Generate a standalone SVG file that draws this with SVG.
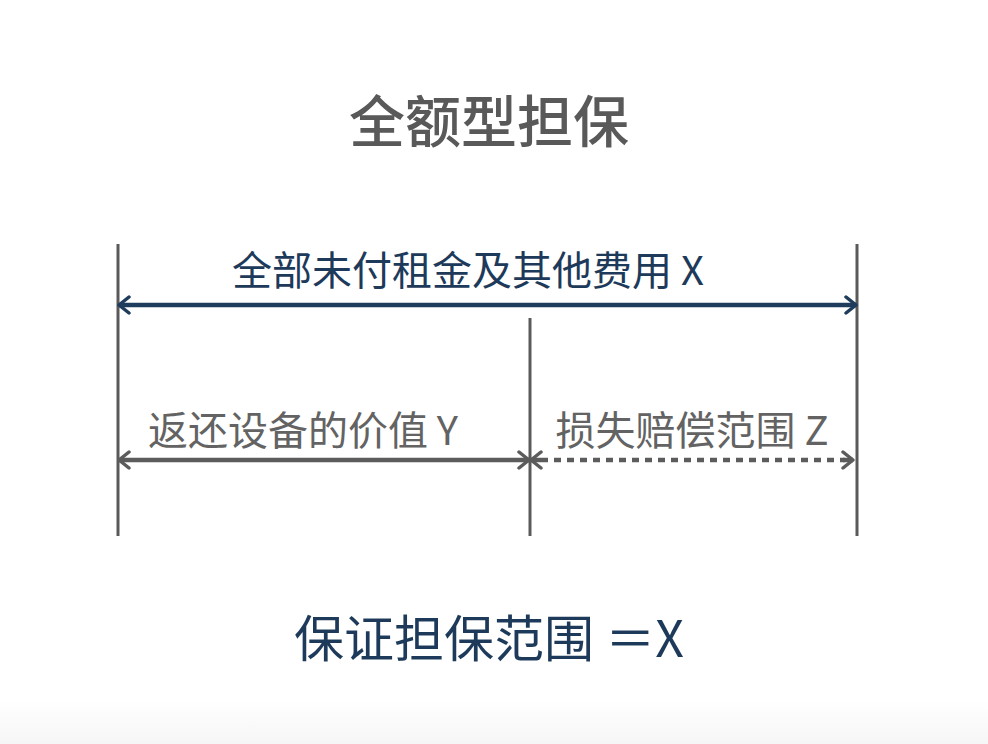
<svg xmlns="http://www.w3.org/2000/svg" width="988" height="744" viewBox="0 0 988 744">
<defs>
<linearGradient id="bg" x1="0" y1="0" x2="0" y2="1">
<stop offset="0" stop-color="#ffffff"/>
<stop offset="1" stop-color="#f6f6f7"/>
</linearGradient>
<marker id="navyEnd" viewBox="0 0 14 20" refX="12" refY="10" markerWidth="14" markerHeight="20" markerUnits="userSpaceOnUse" orient="auto">
<polyline points="2,2 12,10 2,18" fill="none" stroke="#1f3c5c" stroke-width="3.5" stroke-linecap="round" stroke-linejoin="round"/>
</marker>
<marker id="navyStart" viewBox="0 0 14 20" refX="2" refY="10" markerWidth="14" markerHeight="20" markerUnits="userSpaceOnUse" orient="auto">
<polyline points="12,2 2,10 12,18" fill="none" stroke="#1f3c5c" stroke-width="3.5" stroke-linecap="round" stroke-linejoin="round"/>
</marker>
<marker id="grayEnd" viewBox="0 0 14 20" refX="12" refY="10" markerWidth="14" markerHeight="20" markerUnits="userSpaceOnUse" orient="auto">
<polyline points="2,2 12,10 2,18" fill="none" stroke="#5c5c5c" stroke-width="3.5" stroke-linecap="round" stroke-linejoin="round"/>
</marker>
<marker id="grayStart" viewBox="0 0 14 20" refX="2" refY="10" markerWidth="14" markerHeight="20" markerUnits="userSpaceOnUse" orient="auto">
<polyline points="12,2 2,10 12,18" fill="none" stroke="#5c5c5c" stroke-width="3.5" stroke-linecap="round" stroke-linejoin="round"/>
</marker>
</defs>
<style>
text { font-family: "Noto Sans CJK SC", "Noto Sans", sans-serif; }
.title { font-size: 56px; fill: #595959; font-weight: 500; }
.navy { fill: #1e3a5a; }
.gray { fill: #636363; }
.vline { stroke: #5a5a5a; stroke-width: 3; fill: none; }
</style>
<rect x="0" y="0" width="988" height="744" fill="#ffffff"/>
<rect x="0" y="700" width="988" height="44" fill="url(#bg)"/>

<g id="title"><text class="title" x="489" y="142" text-anchor="middle">全额型担保</text></g>

<g id="boundaries">
<line class="vline" x1="118" y1="244" x2="118" y2="536"/>
<line class="vline" x1="857" y1="244" x2="857" y2="536"/>
<line class="vline" x1="530" y1="318" x2="530" y2="536"/>
</g>

<g id="connectors">
<line x1="119" y1="305" x2="856" y2="305" stroke="#1f3c5c" stroke-width="4.5" marker-start="url(#navyStart)" marker-end="url(#navyEnd)"/>
<line x1="119" y1="460" x2="529" y2="460" stroke="#5c5c5c" stroke-width="4.5" marker-start="url(#grayStart)" marker-end="url(#grayEnd)"/>
<line x1="541" y1="460" x2="845" y2="460" stroke="#5c5c5c" stroke-width="4.5" stroke-dasharray="7 6"/>
<line x1="531" y1="460" x2="541" y2="460" stroke="#5c5c5c" stroke-width="4.5" marker-start="url(#grayStart)"/>
<line x1="843" y1="460" x2="853" y2="460" stroke="#5c5c5c" stroke-width="4.5" marker-end="url(#grayEnd)"/>
</g>

<g id="label-x"><text class="navy" x="468" y="285" text-anchor="middle" font-size="40">全部未付租金及其他费用 X</text></g>
<g id="label-y"><text class="gray" x="303" y="445" text-anchor="middle" font-size="40">返还设备的价值 Y</text></g>
<g id="label-z"><text class="gray" x="692" y="445" text-anchor="middle" font-size="40">损失赔偿范围 Z</text></g>
<g id="result"><text class="navy" x="489" y="657" text-anchor="middle" font-size="50">保证担保范围 ＝X</text></g>
</svg>
